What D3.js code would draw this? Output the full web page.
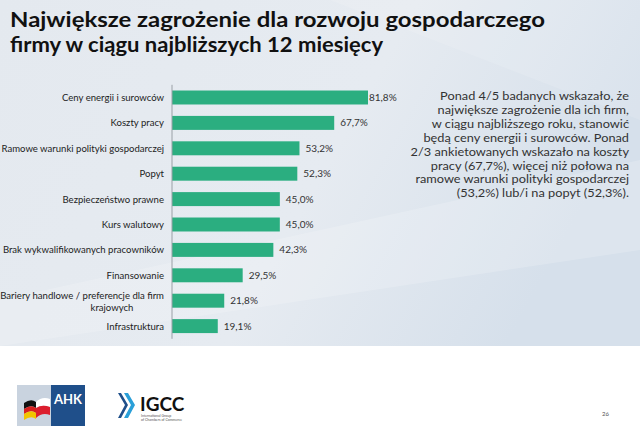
<!DOCTYPE html>
<html><head><meta charset="utf-8">
<script src="https://cdn.jsdelivr.net/npm/d3@7"></script>
<style>
html,body{margin:0;padding:0;background:#fff;}
svg{display:block;}
text{font-family:"Source Sans Pro",Lato,"Open Sans",sans-serif;}
</style></head>
<body>
<script>
const categories = ["Ceny energii i surowców","Koszty pracy","Ramowe warunki polityki gospodarczej","Popyt","Bezpieczeństwo prawne","Kurs walutowy","Brak wykwalifikowanych pracowników","Finansowanie","Bariery handlowe / preferencje dla firm krajowych","Infrastruktura"];
const values = [81.8,67.7,53.2,52.3,45.0,45.0,42.3,29.5,21.8,19.1];
const valueLabels = ["81,8%","67,7%","53,2%","52,3%","45,0%","45,0%","42,3%","29,5%","21,8%","19,1%"];
const titleLines = ["Największe zagrożenie dla rozwoju gospodarczego","firmy w ciągu najbliższych 12 miesięcy"];
const noteLines = ["Ponad 4/5 badanych wskazało, że","największe zagrożenie dla ich firm,","w ciągu najbliższego roku, stanowić","będą ceny energii i surowców. Ponad","2/3 ankietowanych wskazało na koszty","pracy (67,7%), więcej niż połowa na","ramowe warunki polityki gospodarczej","(53,2%) lub/i na popyt (52,3%)."];

const W=640,H=433;
const svg=d3.select("body").append("svg").attr("width",W).attr("height",H);
const defs=svg.append("defs");
const g1=defs.append("linearGradient").attr("id","bg").attr("x1","0").attr("y1","0").attr("x2","1").attr("y2","0.3");
g1.append("stop").attr("offset","0").attr("stop-color","#e4e9ef");
g1.append("stop").attr("offset","0.6").attr("stop-color","#e6ebf1");
g1.append("stop").attr("offset","1").attr("stop-color","#d6e0eb");
svg.append("rect").attr("x",0).attr("y",0).attr("width",W).attr("height",346).attr("fill","url(#bg)");
svg.append("path").attr("d","M0,300 L640,160 L640,250 L0,346 Z").attr("fill","#ffffff").attr("opacity",0.18);
svg.append("path").attr("d","M330,0 L640,0 L640,120 Z").attr("fill","#ffffff").attr("opacity",0.12);

svg.append("g").selectAll("text").data(titleLines).join("text")
  .attr("x",10).attr("y",(d,i)=>27+i*25)
  .attr("font-size",21).attr("font-weight","bold").attr("fill","#111")
  .attr("textLength",(d,i)=>i===0?535:373).attr("lengthAdjust","spacingAndGlyphs")
  .text(d=>d);

const x=d3.scaleLinear().domain([0,100]).range([172,411.6]);
const y=d3.scaleBand().domain(categories).range([84.8,338.8]).paddingInner(0.45).paddingOuter(0.225);

svg.append("g").selectAll("rect").data(values).join("rect")
  .attr("x",x(0)).attr("y",(d,i)=>y(categories[i]))
  .attr("width",d=>x(d)-x(0)).attr("height",y.bandwidth())
  .attr("fill","#2bae80");

const axis=svg.append("g").attr("transform",`translate(${x(0)},0)`)
  .call(d3.axisLeft(y).tickSize(0).tickPadding(8).tickFormat(()=>""));
axis.select(".domain").attr("stroke","#9aa0a6").attr("stroke-width",1).attr("d","M0,84.8V338.8");

function squeeze(sel,k){
  sel.each(function(){
    const w=this.getComputedTextLength();
    d3.select(this).attr("textLength",w*k).attr("lengthAdjust","spacingAndGlyphs");
  });
}
const labG=svg.append("g");
categories.forEach(d=>{
  const cy=y(d)+y.bandwidth()/2;
  if(d.startsWith("Bariery")){
    labG.append("text").attr("x",164).attr("y",cy-1.5).attr("text-anchor","end").attr("font-size",10).attr("fill","#222").text("Bariery handlowe / preferencje dla firm").call(squeeze,0.955);
    labG.append("text").attr("x",112).attr("y",cy+10.5).attr("text-anchor","middle").attr("font-size",10).attr("fill","#222").text("krajowych").call(squeeze,0.955);
  } else {
    labG.append("text").attr("x",164).attr("y",cy+3.5).attr("text-anchor","end").attr("font-size",10).attr("fill","#222").text(d).call(squeeze,0.955);
  }
});

svg.append("g").selectAll("text").data(values).join("text")
  .attr("x",(d,i)=>x(d)+(i===0?1:6)).attr("y",(d,i)=>y(categories[i])+y.bandwidth()/2+3.5)
  .attr("font-size",10).attr("fill","#333").text((d,i)=>valueLabels[i]);

svg.append("g").selectAll("text").data(noteLines).join("text")
  .attr("x",629).attr("y",(d,i)=>100+i*13.9).attr("text-anchor","end")
  .attr("font-size",11.6).attr("fill","#333").text(d=>d).call(squeeze,1.1);

const ahk=svg.append("g");
ahk.append("rect").attr("x",17).attr("y",385).attr("width",68).attr("height",41).attr("fill","#c9d3df");
ahk.append("rect").attr("x",51).attr("y",385).attr("width",34).attr("height",41).attr("fill","#1f4f8a");
ahk.append("path").attr("d","M24,403 Q31,398 36,402 L36,408 Q31,404 24,409 Z").attr("fill","#111");
ahk.append("path").attr("d","M24,409 Q31,404 36,408 L36,413 Q31,409 24,414 Z").attr("fill","#d8201f");
ahk.append("path").attr("d","M24,414 Q31,409 36,413 L36,419 Q31,415 24,420 Z").attr("fill","#f2c400");
ahk.append("path").attr("d","M36,402 Q42,396 50,399 L50,407 Q42,404 36,408 Z").attr("fill","#ffffff");
ahk.append("path").attr("d","M36,408 Q42,404 50,407 L50,415 Q42,412 36,418 Z").attr("fill","#dc1e2e");
ahk.append("text").attr("x",68).attr("y",404).attr("text-anchor","middle").attr("font-size",13).attr("font-weight","bold").attr("fill","#fff").attr("font-family","Liberation Sans, Arial").text("AHK");

const ig=svg.append("g");
ig.append("path").attr("d","M118,393 L125,405 L118,418 L121,418 L128,405 L121,393 Z").attr("fill","#1f4f8a");
ig.append("path").attr("d","M124,393 L131,405 L124,418 L128,418 L135,405 L128,393 Z").attr("fill","#2a9fd8");
ig.append("text").attr("x",140).attr("y",411).attr("font-size",19).attr("font-weight","bold").attr("fill","#111").attr("font-family","Liberation Sans, Arial").text("IGCC");
ig.append("text").attr("x",141).attr("y",417).attr("font-size",3.5).attr("fill","#555").attr("font-family","Liberation Sans, Arial").text("International Group");
ig.append("text").attr("x",141).attr("y",421).attr("font-size",3.5).attr("fill","#555").attr("font-family","Liberation Sans, Arial").text("of Chambers of Commerce");

svg.append("text").attr("x",602).attr("y",416).attr("font-size",6).attr("fill","#555").attr("font-family","Liberation Sans, Arial").text("26");
</script>
</body></html>
